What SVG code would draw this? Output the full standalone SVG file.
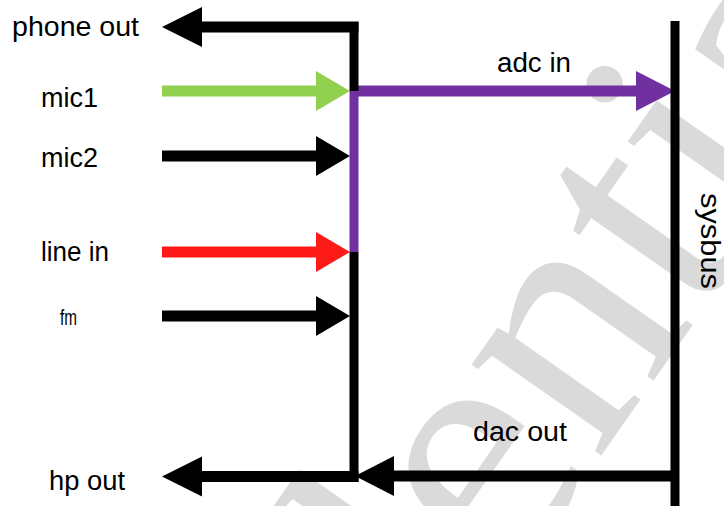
<svg xmlns="http://www.w3.org/2000/svg" width="724" height="506" viewBox="0 0 724 506">
<defs>
<style>
.lbl{font-family:"Liberation Sans",Arial,sans-serif;font-size:27px;fill:#000}
.wm{font-family:"Liberation Serif","Times New Roman",serif;font-size:345px;fill:#dadada}
.h{fill:none;stroke-width:11;stroke-linecap:butt}
.v{fill:none;stroke-width:9;stroke-linecap:butt}
.k{stroke:#000}
.g{stroke:#92D050}
.r{stroke:#FF1A1A}
.p{stroke:#7030A0}
</style>
<polygon id="ain" points="0,-20 34,0 0,20"/>
<polygon id="aout" points="0,-20 -40,0 0,20"/>
</defs>
<rect width="724" height="506" fill="#fff"/>
<g id="watermark"><text class="wm" transform="translate(-40.8,1372.4) rotate(-55)">Confidential</text></g>
<g id="connectors">
<line class="h g" x1="162" y1="91" x2="317" y2="91"/>
<use href="#ain" x="316" y="91" fill="#92D050"/>
<line class="h k" x1="162" y1="156" x2="317" y2="156"/>
<use href="#ain" x="316" y="156" fill="#000"/>
<line class="h r" x1="162" y1="252" x2="317" y2="252"/>
<use href="#ain" x="316" y="252" fill="#FF1A1A"/>
<line class="h k" x1="162" y1="316" x2="317" y2="316"/>
<use href="#ain" x="316" y="316" fill="#000"/>
<line class="h k" x1="358.5" y1="27" x2="201" y2="27"/>
<use href="#aout" x="202" y="27" fill="#000"/>
<line class="h k" x1="358.5" y1="476.5" x2="201" y2="476.5"/>
<use href="#aout" x="202" y="476.5" fill="#000"/>
<line class="h p" x1="350" y1="91" x2="637" y2="91"/>
<polygon points="636,71 675,91 636,111" fill="#7030A0"/>
<line class="h k" x1="675" y1="476" x2="393" y2="476"/>
<polygon points="394,456 355,476 394,496" fill="#000"/>
</g>
<g id="mixer-bus">
<line class="v k" x1="354" y1="22" x2="354" y2="91"/>
<line class="v p" x1="354" y1="91" x2="354" y2="252"/>
<line class="v k" x1="354" y1="252" x2="354" y2="482"/>
</g>
<g id="sysbus">
<line class="v k" x1="675" y1="21" x2="675" y2="506"/>
<text class="lbl" transform="translate(701,241) rotate(90)" text-anchor="middle" textLength="96" lengthAdjust="spacingAndGlyphs">sysbus</text>
</g>
<g id="phone-out"><text class="lbl" x="12" y="36" textLength="127" lengthAdjust="spacingAndGlyphs">phone out</text></g>
<g id="mic1"><text class="lbl" x="41" y="107" textLength="57" lengthAdjust="spacingAndGlyphs">mic1</text></g>
<g id="mic2"><text class="lbl" x="41" y="167" textLength="57" lengthAdjust="spacingAndGlyphs">mic2</text></g>
<g id="line-in"><text class="lbl" x="41" y="261" textLength="68" lengthAdjust="spacingAndGlyphs">line in</text></g>
<g id="fm"><text class="lbl" x="60" y="325" style="font-size:22px" textLength="17" lengthAdjust="spacingAndGlyphs">fm</text></g>
<g id="hp-out"><text class="lbl" x="49" y="490" textLength="76" lengthAdjust="spacingAndGlyphs">hp out</text></g>
<g id="adc-in"><text class="lbl" x="497" y="72" textLength="74" lengthAdjust="spacingAndGlyphs">adc in</text></g>
<g id="dac-out"><text class="lbl" x="473" y="441" textLength="94" lengthAdjust="spacingAndGlyphs">dac out</text></g>
</svg>
